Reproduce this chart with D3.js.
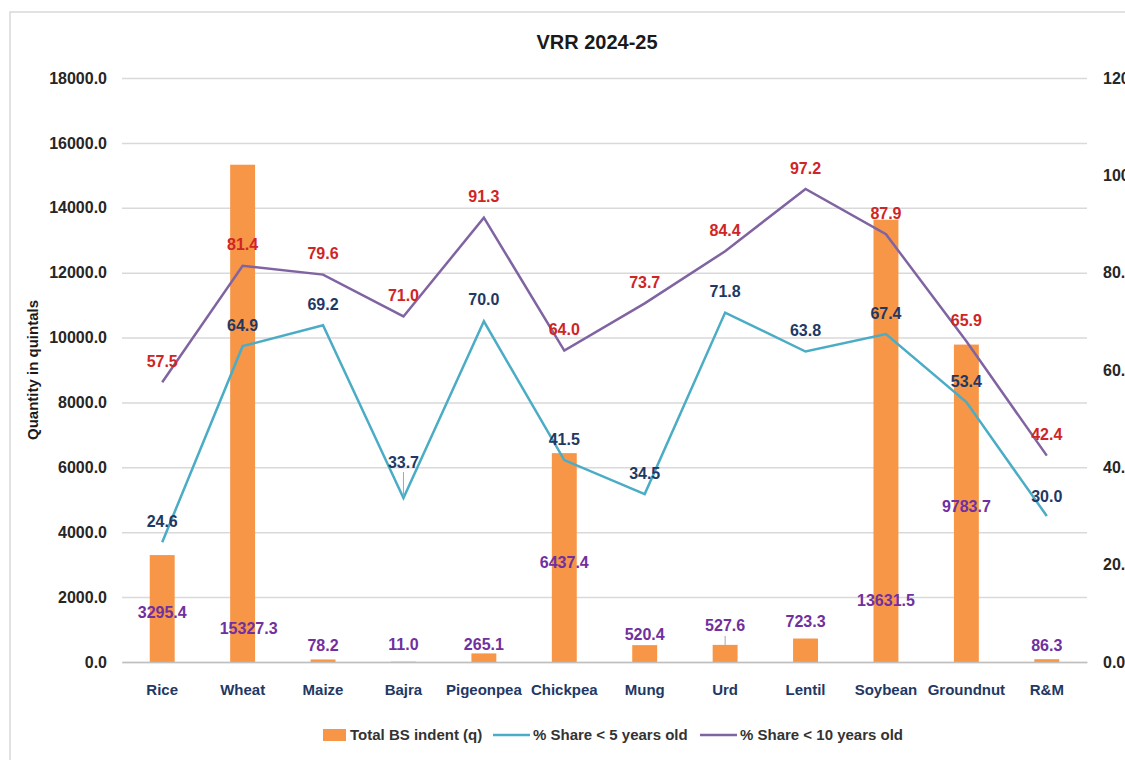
<!DOCTYPE html>
<html>
<head>
<meta charset="utf-8">
<script src="https://cdn.jsdelivr.net/npm/d3@7"></script>
<style>
  body { margin: 0; background: #fff; }
  svg { display: block; font-family: "Liberation Sans", Arial, sans-serif; }
  .tick text { font-weight: bold; }
</style>
</head>
<body>
<svg width="1125" height="760"></svg>
<script>
var crops = ["Rice", "Wheat", "Maize", "Bajra", "Pigeonpea", "Chickpea", "Mung", "Urd", "Lentil", "Soybean", "Groundnut", "R&M"];
var indent = [3295.4, 15327.3, 78.2, 11.0, 265.1, 6437.4, 520.4, 527.6, 723.3, 13631.5, 9783.7, 86.3];
var share5 = [24.6, 64.9, 69.2, 33.7, 70.0, 41.5, 34.5, 71.8, 63.8, 67.4, 53.4, 30.0];
var share10 = [57.5, 81.4, 79.6, 71.0, 91.3, 64.0, 73.7, 84.4, 97.2, 87.9, 65.9, 42.4];
var leftTicks = [0, 2000, 4000, 6000, 8000, 10000, 12000, 14000, 16000, 18000];
var rightTicks = [0, 20, 40, 60, 80, 100, 120];
var seriesNames = ["Total BS indent (q)", "% Share < 5 years old", "% Share < 10 years old"];

// label placement, as the labels were dragged by hand in the original
var barLabelDy = [57, 464, -14, -17, -9, 109, -11, -19, -17, 381, 162, -14];
var barLabelDx = [0, 6, 0, 0, 0, 0, 0, 0, 0, 0, 0, 0];
var share5LabelDy = [-21, -21, -21, -36, -22, -21, -21, -21, -21, -21, -21, -20];
var share10LabelDy = -21;

var COL_BAR = "#F79646";
var COL_5 = "#4BACC6";
var COL_10 = "#8064A2";

var plotLeft = 122, plotRight = 1087, plotTop = 78, plotBottom = 662;

var svg = d3.select("svg");

// bordo del grafico
svg.append("rect")
   .attr("x", 10).attr("y", 12)
   .attr("width", 1300).attr("height", 900)
   .attr("fill", "none")
   .attr("stroke", "#d9d9d9")
   .attr("stroke-width", 1.5);

var x = d3.scaleBand().domain(crops).range([plotLeft, plotRight]);
var yL = d3.scaleLinear().domain([0, 18000]).range([plotBottom, plotTop]);
var yR = d3.scaleLinear().domain([0, 120]).range([plotBottom, plotTop]);

function cx(i){ return x(crops[i]) + x.bandwidth()/2; }

svg.append("text")
   .attr("x", 597).attr("y", 49)
   .attr("text-anchor", "middle")
   .style("font-size", "20px")
   .style("font-weight", "bold")
   .attr("fill", "#1a1a1a")
   .text("VRR 2024-25");

// griglia
svg.append("g")
   .attr("transform", "translate(" + plotLeft + ",0)")
   .call(d3.axisLeft(yL).tickValues(leftTicks).tickSize(-(plotRight - plotLeft)).tickFormat(""))
   .call(function(g){ g.select(".domain").remove(); })
   .selectAll("line")
   .attr("stroke", "#d9d9d9")
   .attr("stroke-width", 1.5);

// asse sinistro
var axL = svg.append("g")
   .attr("transform", "translate(" + plotLeft + ",0)")
   .call(d3.axisLeft(yL).tickValues(leftTicks).tickSize(0).tickPadding(15).tickFormat(d3.format(".1f")));
axL.select(".domain").remove();
axL.selectAll("text").style("font-size", "16px").attr("fill", "#262626");

// asse destro (tagliato dal bordo dell'immagine, come nell'originale)
var axR = svg.append("g")
   .attr("transform", "translate(" + plotRight + ",0)")
   .call(d3.axisRight(yR).tickValues(rightTicks).tickSize(0).tickPadding(16).tickFormat(d3.format(".1f")));
axR.select(".domain").remove();
axR.selectAll("text").style("font-size", "16px").attr("fill", "#262626");

svg.append("text")
   .attr("transform", "translate(38,370) rotate(-90)")
   .attr("text-anchor", "middle")
   .style("font-size", "15px")
   .style("font-weight", "bold")
   .attr("fill", "#1a1a1a")
   .text("Quantity in quintals");

// barre
var barW = x.bandwidth() * 0.31;
svg.selectAll(".bar").data(indent).enter().append("rect")
   .attr("class", "bar")
   .attr("x", function(d, i){ return cx(i) - barW/2; })
   .attr("y", function(d){ return yL(d); })
   .attr("width", barW)
   .attr("height", function(d){ return plotBottom - yL(d); })
   .attr("fill", COL_BAR);

// asse x
var axB = svg.append("g")
   .attr("transform", "translate(0," + plotBottom + ")")
   .call(d3.axisBottom(x).tickSize(0).tickPadding(22));
axB.select(".domain").attr("stroke", "#bfbfbf").attr("stroke-width", 1.5);
axB.selectAll("text").style("font-size", "15px").attr("fill", "#1F3864");

// linee
function drawLine(values, color){
  var line = d3.line()
      .x(function(d, i){ return cx(i); })
      .y(function(d){ return yR(d); });
  svg.append("path")
     .datum(values)
     .attr("d", line)
     .attr("fill", "none")
     .attr("stroke", color)
     .attr("stroke-width", 2.5)
     .attr("stroke-linejoin", "miter");
}
drawLine(share5, COL_5);
drawLine(share10, COL_10);

// linee guida delle etichette spostate
svg.append("line")
   .attr("x1", cx(3)).attr("x2", cx(3))
   .attr("y1", yR(share5[3]) + share5LabelDy[3] + 10)
   .attr("y2", yR(share5[3]) - 2)
   .attr("stroke", "#a6a6a6").attr("stroke-width", 1);
svg.append("line")
   .attr("x1", cx(7)).attr("x2", cx(7))
   .attr("y1", yL(indent[7]) + barLabelDy[7] + 10)
   .attr("y2", yL(indent[7]))
   .attr("stroke", "#a6a6a6").attr("stroke-width", 1);

// etichette
function labels(values, yfn, dyfn, dxfn, color){
  svg.append("g").selectAll("text").data(values).enter().append("text")
     .attr("x", function(d, i){ return cx(i) + dxfn(i); })
     .attr("y", function(d, i){ return yfn(d) + dyfn(i); })
     .attr("dy", "0.35em")
     .attr("text-anchor", "middle")
     .style("font-size", "16px")
     .style("font-weight", "bold")
     .attr("fill", color)
     .text(function(d){ return d3.format(".1f")(d); });
}
labels(indent, yL, function(i){ return barLabelDy[i]; }, function(i){ return barLabelDx[i]; }, "#7030A0");
labels(share5, yR, function(i){ return share5LabelDy[i]; }, function(){ return 0; }, "#1F3864");
labels(share10, yR, function(){ return share10LabelDy; }, function(){ return 0; }, "#D02525");

// legenda
var legend = svg.append("g").attr("transform", "translate(0,735)");
var legX = [323, 493, 700];
var legColors = [COL_BAR, COL_5, COL_10];
seriesNames.forEach(function(name, i){
  if (i == 0) {
    legend.append("rect")
          .attr("x", legX[i]).attr("y", -6)
          .attr("width", 23).attr("height", 12)
          .attr("fill", legColors[i]);
  } else {
    legend.append("line")
          .attr("x1", legX[i]).attr("x2", legX[i] + 37)
          .attr("stroke", legColors[i]).attr("stroke-width", 2.5);
  }
  legend.append("text")
        .attr("x", legX[i] + (i == 0 ? 27 : 40))
        .attr("dy", "0.35em")
        .style("font-size", "15px")
        .style("font-weight", "bold")
        .attr("fill", "#333333")
        .text(name);
});
</script>
</body>
</html>
